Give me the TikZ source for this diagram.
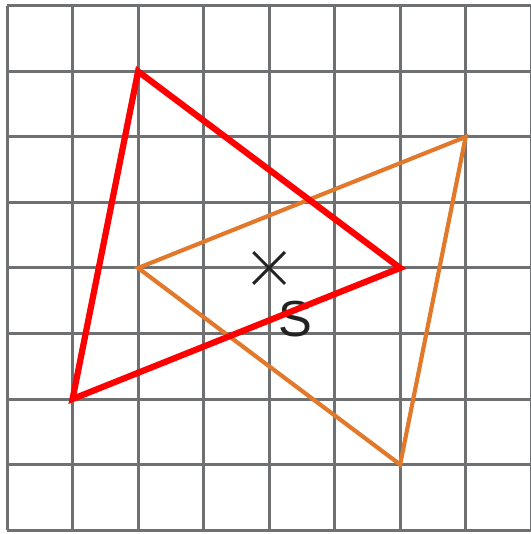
\documentclass[tikz,border=0pt]{standalone}
\usepackage{fontspec}
\setmainfont{Liberation Sans}
\usetikzlibrary{shapes.misc, positioning}
\definecolor{gridgray}{HTML}{6E7072}
\definecolor{imgred}{HTML}{FF0000}
\definecolor{imgorange}{HTML}{E2792A}
\definecolor{centreink}{HTML}{222222}

\begin{document}
\begin{tikzpicture}[
    gridline/.style={gridgray, line width=1.3pt},
    original/.style={imgorange, line width=1.8pt, line join=miter},
    image/.style={imgred, line width=2.7pt, line join=miter},
    centre/.style={cross out, draw=centreink, line width=1.3pt, minimum size=0.44cm, inner sep=0pt},
    centrelabel/.style={font=\fontsize{22}{22}\selectfont, text=centreink, inner sep=0pt}
]
\useasboundingbox (-0.107,-0.06) rectangle (7.985,8.09);

% grid
\draw[gridline] (0,0) grid (8,8);

% centre S
\node[centre] (s) at (4,4) {};
\node[centrelabel, below right=0.5cm and 0.13cm of s.center] (slabel) {S};

% orange triangle
\coordinate (oa) at (2,4);
\coordinate (ob) at (7,6);
\coordinate (oc) at (6,1);
\draw[original] (oa) -- (ob) -- (oc) -- cycle;

% red triangle
\coordinate (ra) at (2,7);
\coordinate (rb) at (6,4);
\coordinate (rc) at (1,2);
\draw[image] (ra) -- (rb) -- (rc) -- cycle;

\end{tikzpicture}
\end{document}
